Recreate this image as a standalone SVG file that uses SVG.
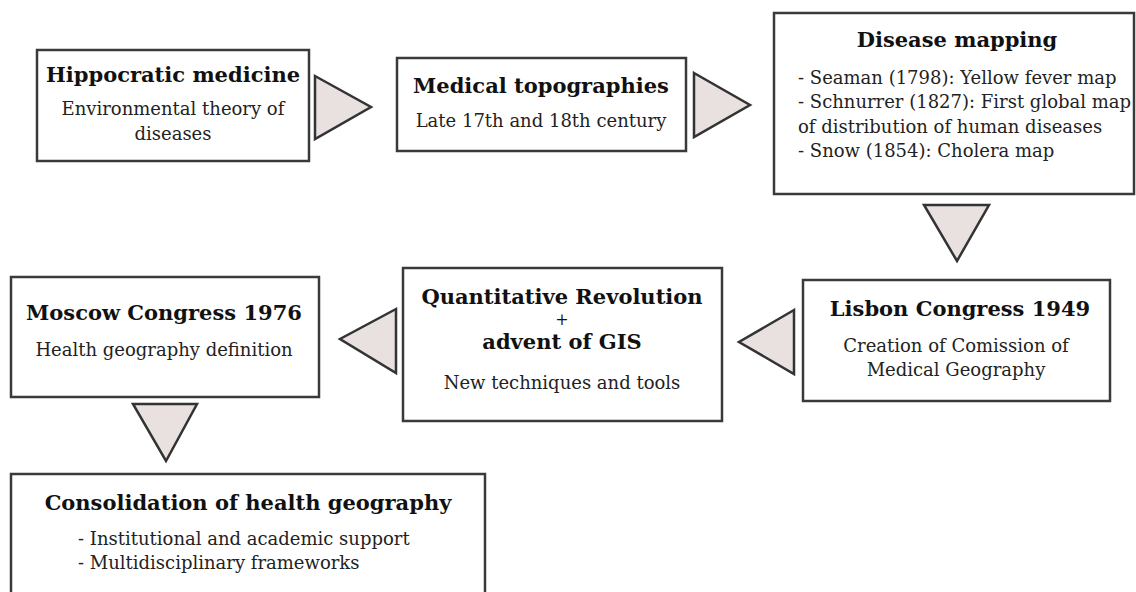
<svg xmlns="http://www.w3.org/2000/svg" width="1136" height="592" viewBox="0 0 1136 592">
<style>
.box{fill:#fff;stroke:#3a3a3a;stroke-width:2.5}
.tri{fill:#e9e0e0;stroke:#333;stroke-width:2.5;stroke-linejoin:miter}
.t{font-family:"DejaVu Serif","Liberation Serif",serif;font-weight:bold;font-size:21px;fill:#111;text-anchor:middle}
.b{font-family:"DejaVu Serif","Liberation Serif",serif;font-size:18px;fill:#222;text-anchor:middle}
.l{text-anchor:start}
.p{font-family:"DejaVu Serif","Liberation Serif",serif;font-size:16px;fill:#111;text-anchor:middle}
</style>
<rect width="1136" height="592" fill="#fff"/>
<g id="connectors">
<polygon class="tri" points="315,76 371,107 315,139"/>
<polygon class="tri" points="694,73 750,105 694,137"/>
<polygon class="tri" points="924,205 989,205 957,261"/>
<polygon class="tri" points="794,310 739,342 794,374"/>
<polygon class="tri" points="396,309 340,339 396,373"/>
<polygon class="tri" points="133,404 197,404 166,461"/>
</g>
<g id="hippocratic">
<rect class="box" x="37" y="50" width="272" height="111"/>
<text class="t" x="173" y="82">Hippocratic medicine</text>
<text class="b" x="173" y="115">Environmental theory of</text>
<text class="b" x="173" y="140">diseases</text>
</g>
<g id="topographies">
<rect class="box" x="397" y="58" width="289" height="93"/>
<text class="t" x="541" y="93">Medical topographies</text>
<text class="b" x="541" y="127">Late 17th and 18th century</text>
</g>
<g id="mapping">
<rect class="box" x="774" y="13" width="360" height="181"/>
<text class="t" x="957" y="47">Disease mapping</text>
<text class="b l" x="798" y="84">- Seaman (1798): Yellow fever map</text>
<text class="b l" x="798" y="108">- Schnurrer (1827): First global map</text>
<text class="b l" x="798" y="133">of distribution of human diseases</text>
<text class="b l" x="798" y="157">- Snow (1854): Cholera map</text>
</g>
<g id="lisbon">
<rect class="box" x="803" y="280" width="307" height="121"/>
<text class="t" x="960" y="316">Lisbon Congress 1949</text>
<text class="b" x="956" y="352">Creation of Comission of</text>
<text class="b" x="956" y="376">Medical Geography</text>
</g>
<g id="quantitative">
<rect class="box" x="403" y="268" width="319" height="153"/>
<text class="t" x="562" y="304">Quantitative Revolution</text>
<text class="p" x="562" y="325">+</text>
<text class="t" x="562" y="349">advent of GIS</text>
<text class="b" x="562" y="389">New techniques and tools</text>
</g>
<g id="moscow">
<rect class="box" x="11" y="277" width="308" height="120"/>
<text class="t" x="164" y="320">Moscow Congress 1976</text>
<text class="b" x="164" y="356">Health geography definition</text>
</g>
<g id="consolidation">
<rect class="box" x="11" y="474" width="474" height="130"/>
<text class="t" x="248" y="510">Consolidation of health geography</text>
<text class="b l" x="78" y="545">- Institutional and academic support</text>
<text class="b l" x="78" y="569">- Multidisciplinary frameworks</text>
</g>
</svg>
